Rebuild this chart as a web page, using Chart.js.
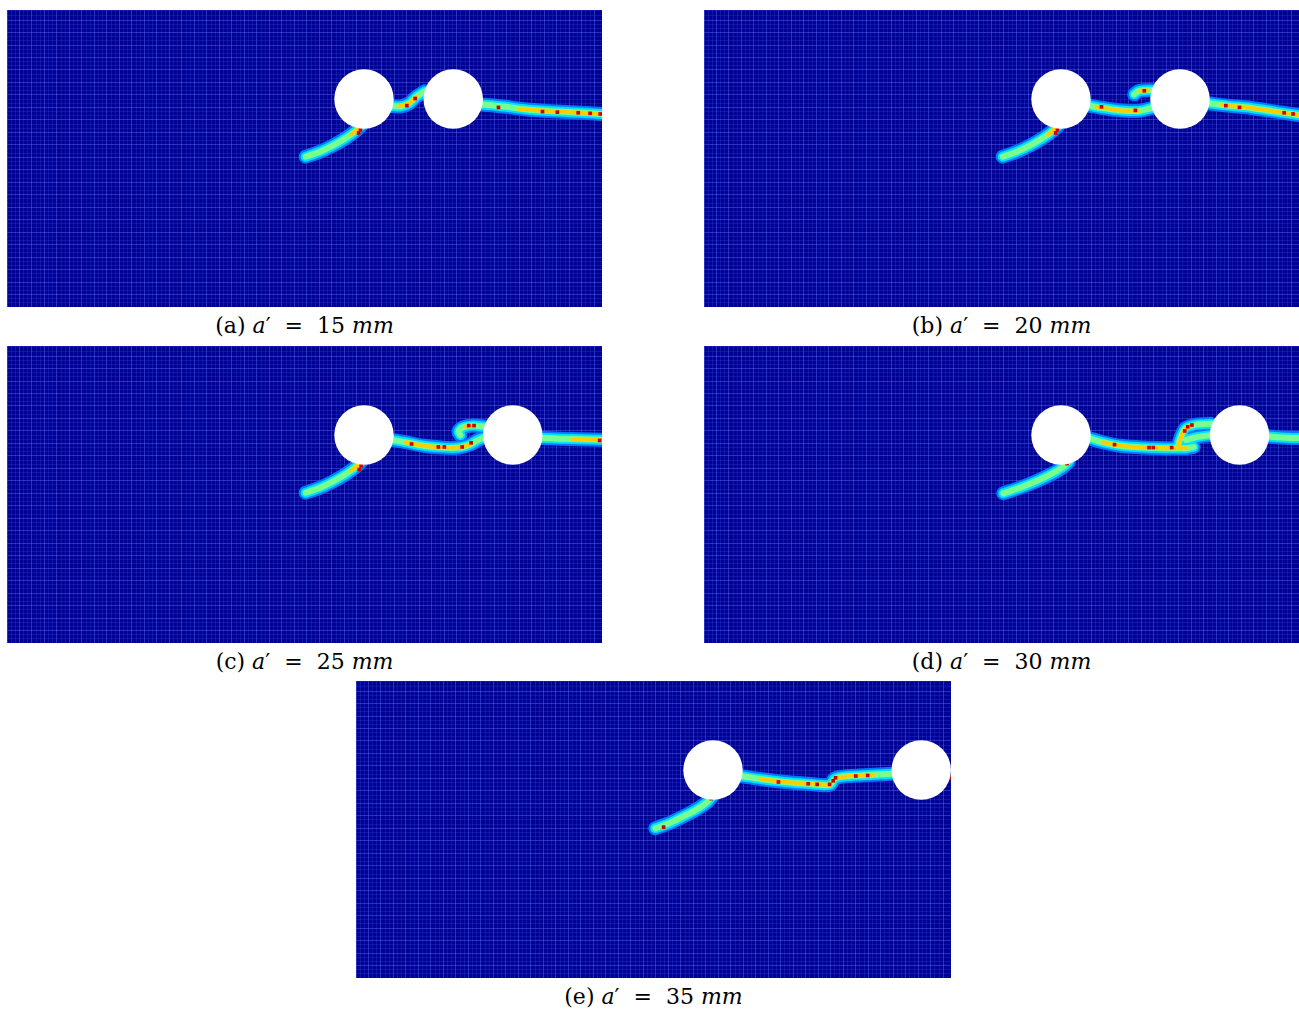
<!DOCTYPE html>
<html>
<head>
<meta charset="utf-8">
<script src="https://cdn.jsdelivr.net/npm/chart.js@4.4.1/dist/chart.umd.min.js"></script>
<style>
  body { margin: 0; background: #fff; width: 1299px; height: 1009px; overflow: hidden; position: relative; }
  .panel { position: absolute; width: 595px; height: 297px; }
  .cap { position: absolute; width: 595px; text-align: center; font-family: "DejaVu Serif", serif; font-size: 22px; line-height: 28px; color: #000; white-space: pre; }
  .cap i { font-style: italic; }
</style>
</head>
<body>
<script>
// domain is 100 x 50 mm, holes r = 5 mm, first hole at (60, 35)
const holeR = 5;
const holeY = 35;
const holeX1 = 60;
const spacing = [15, 20, 25, 30, 35]; // a' (mm)
const labels = ["a", "b", "c", "d", "e"];

// crack paths, [x, y] in mm
const lowerA = [[50.2, 25.3], [52.5, 26.1], [55, 27.3], [57.2, 28.6], [58.8, 29.8], [59.6, 30.6]];
const midA = [[64.6, 33.8], [66.3, 33.8], [67.6, 34.3], [68.8, 35.4], [70.2, 36.3]];
const rightA = [[79.6, 34.1], [83, 33.8], [87, 33.3], [91, 33.0], [95, 32.8], [100, 32.5]];
const hotA = [[[57.8, 29.0], [59.2, 30.2]], [[66, 33.9], [67.6, 34.3], [68.8, 35.4]], [[86, 33.3], [91, 33.0], [95, 32.8], [100, 32.5]]];
const redA = [[59.1, 29.3], [59.4, 29.8], [67.2, 33.9], [68.6, 35.1], [82.6, 33.6], [90, 32.9], [92.5, 32.8], [96, 32.7], [98, 32.6], [99.7, 32.5]];

const lowerB = [[50.2, 25.3], [52.5, 26.1], [55, 27.3], [57.2, 28.6], [58.8, 29.8], [59.6, 30.6]];
const midB = [[64.6, 33.9], [67, 33.5], [70, 33.1], [73, 33.0], [75.3, 33.5]];
const branchB = [[72.3, 35.8], [73.2, 36.4], [75.3, 36.5]];
const rightB = [[84.6, 34.3], [88, 33.9], [92, 33.5], [96, 32.9], [100, 32.3]];
const hotB = [[[57.8, 29.0], [59.2, 30.2]], [[66, 33.7], [70, 33.1], [73, 33.0]], [[73.3, 36.4], [74.5, 36.5]], [[87, 34.0], [92, 33.5], [96, 32.9], [100, 32.3]]];
const redB = [[59.1, 29.3], [59.4, 29.8], [66.8, 33.7], [72.5, 33.1], [74, 36.4], [87.7, 33.9], [90, 33.6], [97.5, 32.7], [99, 32.5]];

const lowerC = [[50.2, 25.3], [52.5, 26.1], [55, 27.3], [57.2, 28.6], [58.8, 29.8], [59.6, 30.6]];
const midC = [[64.6, 34.2], [67, 33.8], [70, 33.2], [73, 32.9], [76, 32.9], [77.8, 33.4], [79.2, 34.2], [80.3, 34.6]];
const hookC = [[80.3, 36.4], [78.3, 36.6], [76.6, 36.3], [75.9, 35.6], [76.2, 35.0]];
const rightC = [[89.7, 34.5], [93, 34.4], [96.5, 34.3], [100, 34.2]];
const hotC = [[[57.8, 29.0], [59.2, 30.2]], [[67, 33.8], [70, 33.2], [73, 32.9], [76, 32.9], [77.8, 33.4]], [[78.3, 36.6], [77, 36.4]], [[95, 34.3], [100, 34.2]]];
const redC = [[59.2, 29.2], [59.5, 29.8], [59.8, 30.3], [68, 33.5], [72.5, 33.0], [73.5, 33.0], [76.5, 33.0], [78, 33.7], [77.6, 36.6], [78.5, 36.6], [99.6, 34.1]];

const lowerD = [[50.3, 25.2], [53, 26.1], [56, 27.3], [58.5, 28.5], [60.3, 29.6], [61.3, 30.5]];
const midD = [[64.6, 34.5], [67, 33.8], [70, 33.2], [74, 32.9], [78, 32.8], [81, 32.8], [82.3, 33.0]];
const upD = [[79.6, 33.0], [80.2, 34.8], [81, 36.2], [83, 36.8], [85.2, 36.9]];
const lowD = [[81, 34.2], [83, 34.7], [85.2, 35.0]];
const rightD = [[94.6, 34.8], [97, 34.6], [100, 34.5]];
const hotD = [[[67, 33.8], [70, 33.2], [74, 32.9], [78, 32.8], [81, 32.8]], [[79.8, 33.2], [80.3, 35], [81, 36.2], [82, 36.6]]];
const redD = [[61.0, 30.2], [69, 33.4], [74.8, 32.9], [75.5, 32.9], [78.6, 32.9], [80.8, 35.7], [81.3, 36.4], [82, 36.7]];

const lowerE = [[50.3, 25.2], [52.5, 26.0], [55, 27.2], [57.3, 28.4], [59, 29.6], [59.8, 30.5]];
const midE = [[64.6, 34.0], [68, 33.5], [72, 33.0], [76, 32.7], [79.6, 32.5], [80.5, 33.6], [83, 34.0], [87, 34.2], [90.3, 34.4]];
const hotE = [[[68, 33.5], [72, 33.0], [76, 32.7], [79.6, 32.5]], [[80.5, 33.6], [83, 34.0], [87, 34.2]]];
const redE = [[51.7, 25.4], [59.7, 30.2], [71, 33.0], [76, 32.7], [77.5, 32.6], [79.6, 32.6], [80.2, 33.2], [80.6, 33.7], [84, 34.0], [86, 34.1], [99.7, 33.6]];

const cracks = [
  [lowerA, midA, rightA],
  [lowerB, midB, branchB, rightB],
  [lowerC, midC, hookC, rightC],
  [lowerD, midD, upD, lowD, rightD],
  [lowerE, midE]
];
const hots = [hotA, hotB, hotC, hotD, hotE];
const reds = [redA, redB, redC, redD, redE];

// page layout (px)
const panelPos = [[7, 10], [704, 10], [7, 346], [704, 346], [356, 681]];

const pts = (arr) => arr.map(([x, y]) => ({ x, y }));

const bgPlugin = {
  id: "bg",
  beforeDraw(chart) {
    const { ctx, chartArea: a } = chart;
    ctx.save();
    ctx.fillStyle = "rgb(0,2,148)";
    ctx.fillRect(a.left, a.top, a.right - a.left, a.bottom - a.top);
    ctx.restore();
  }
};

const lineDs = (data, color, width, order) => ({
  type: "scatter",
  data: pts(data),
  showLine: true,
  borderColor: color,
  borderWidth: width,
  borderCapStyle: "round",
  borderJoinStyle: "round",
  tension: 0.35,
  pointRadius: 0,
  order
});

const meshGrid = {
  drawTicks: false,
  lineWidth: 1,
  color: (c) => (c.index % 3 === 0 ? "rgba(100,120,255,0.4)" : "rgba(60,80,230,0.25)")
};

panelPos.forEach(([left, top], i) => {
  const wrap = document.createElement("div");
  wrap.className = "panel";
  wrap.style.left = left + "px";
  wrap.style.top = top + "px";
  const cv = document.createElement("canvas");
  cv.width = 595;
  cv.height = 297;
  wrap.appendChild(cv);
  document.body.appendChild(wrap);

  const cap = document.createElement("div");
  cap.className = "cap";
  cap.style.left = left + "px";
  cap.style.top = (top + 302) + "px";
  cap.innerHTML = "(" + labels[i] + ") <i>a</i>′  =  " + spacing[i] + " <i>mm</i>";
  document.body.appendChild(cap);

  const datasets = [];
  datasets.push({
    type: "scatter",
    data: pts([[holeX1, holeY], [holeX1 + spacing[i], holeY]]),
    backgroundColor: "#fff",
    borderWidth: 0,
    pointStyle: "circle",
    pointRadius: (c) => {
      const xs = c.chart.scales.x;
      return xs.getPixelForValue(holeR) - xs.getPixelForValue(0);
    },
    order: 0
  });
  datasets.push({
    type: "scatter",
    data: pts(reds[i]),
    backgroundColor: "rgb(205,0,0)",
    borderWidth: 0,
    pointStyle: "rect",
    pointRadius: 2.6,
    order: 1
  });
  hots[i].forEach((h) => datasets.push(lineDs(h, "rgb(255,205,0)", 4, 2)));
  cracks[i].forEach((c) => {
    datasets.push(lineDs(c, "rgb(120,255,140)", 6, 3));
    datasets.push(lineDs(c, "rgb(0,225,255)", 10, 4));
    datasets.push(lineDs(c, "rgb(0,120,255)", 14, 5));
  });

  new Chart(cv, {
    type: "scatter",
    data: { datasets },
    options: {
      responsive: false,
      animation: false,
      layout: { padding: 0, autoPadding: false },
      plugins: { legend: { display: false }, tooltip: { enabled: false } },
      scales: {
        x: {
          type: "linear", min: 0, max: 100,
          ticks: { display: false, stepSize: 0.7, maxTicksLimit: 300, autoSkip: false },
          border: { display: false },
          grid: meshGrid
        },
        y: {
          type: "linear", min: 0, max: 50,
          ticks: { display: false, stepSize: 0.7, maxTicksLimit: 300, autoSkip: false },
          border: { display: false },
          grid: meshGrid
        }
      }
    },
    plugins: [bgPlugin]
  });
});
</script>
</body>
</html>
